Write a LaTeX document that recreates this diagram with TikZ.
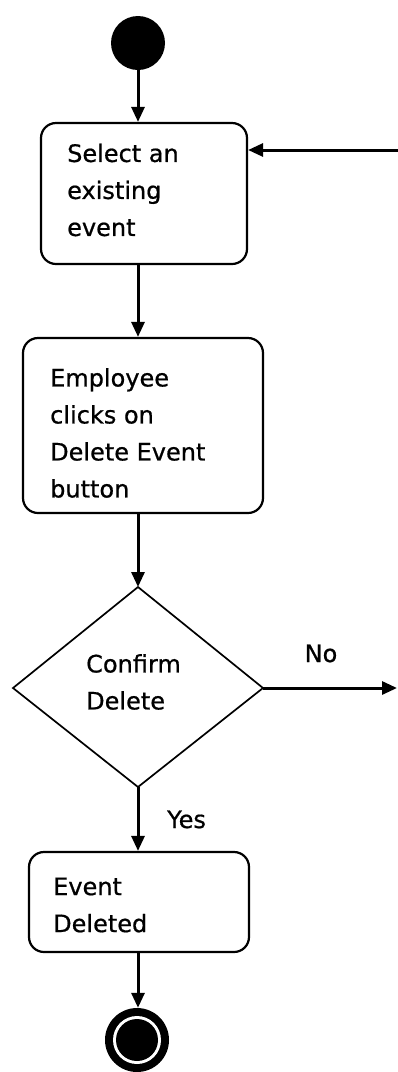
\documentclass[tikz,border=0pt]{standalone}
\usepackage{fontspec}
\setmainfont[FakeBold=0.7]{DejaVu Sans}
\usetikzlibrary{arrows.meta}
\begin{document}
\begin{tikzpicture}[x=1pt,y=-1pt,
  box/.style={draw,line width=2.2pt,rounded corners=15pt,inner sep=0pt},
  txt/.style={align=left,inner sep=0pt,font=\fontsize{24}{37}\selectfont},
  arr/.style={line width=3pt,-{Triangle[length=15pt,width=13pt]}},
  lbl/.style={inner sep=0pt,font=\fontsize{24}{37}\selectfont}]
\useasboundingbox (0,0) rectangle (398,1072);
\coordinate (cx) at (138,0);
% start
\node[circle,fill=black,minimum width=52pt,minimum height=54pt,inner sep=0pt] (start) at (138,43) {};
% box 1
\node[box,minimum width=206pt,minimum height=141pt] (b1) at (144,193.5) {};
\node[txt,anchor=west] (t1) at (67,190) {Select an\\existing\\event};
% box 2
\node[box,minimum width=240pt,minimum height=175pt] (b2) at (143,425.5) {};
\node[txt,anchor=west] (t2) at (50,433) {Employee\\clicks on\\Delete Event\\button};
% diamond
\coordinate (dT) at (138,587);
\coordinate (dR) at (263,688);
\coordinate (dB) at (138,787);
\coordinate (dL) at (13,688);
\draw[line width=1.7pt,line join=miter] (dT) -- (dR) -- (dB) -- (dL) -- cycle;
\node[txt,anchor=west] (t3) at (86,682) {Confirm\\Delete};
% box 3
\node[box,minimum width=220pt,minimum height=100pt] (b3) at (139,902) {};
\node[txt,anchor=west] (t4) at (53,905) {Event\\Deleted};
% end
\node[circle,fill=black,minimum size=64pt,inner sep=0pt] (end) at (137,1040) {};
\node[circle,fill=white,minimum size=48pt,inner sep=0pt] (endw) at (end) {};
\node[circle,fill=black,minimum size=42pt,inner sep=0pt] (endi) at (end) {};
% external coordinates
\coordinate (loopin) at (398,150);
\coordinate (noout) at (397,688);
% connectors
\draw[arr] (start.south) -- (cx |- b1.north);
\draw[arr] (loopin) -- (b1.east |- loopin);
\draw[arr] (cx |- b1.south) -- (cx |- b2.north);
\draw[arr] (cx |- b2.south) -- (dT);
\draw[arr] (dR) -- (noout);
\draw[arr] (dB) -- (cx |- b3.north);
\draw[arr] (cx |- b3.south) -- (cx |- end.north);
% labels
\node[lbl,anchor=base] (no) at (321,662) {No};
\node[lbl,anchor=base west] (yes) at (167,828) {Yes};
\end{tikzpicture}
\end{document}
